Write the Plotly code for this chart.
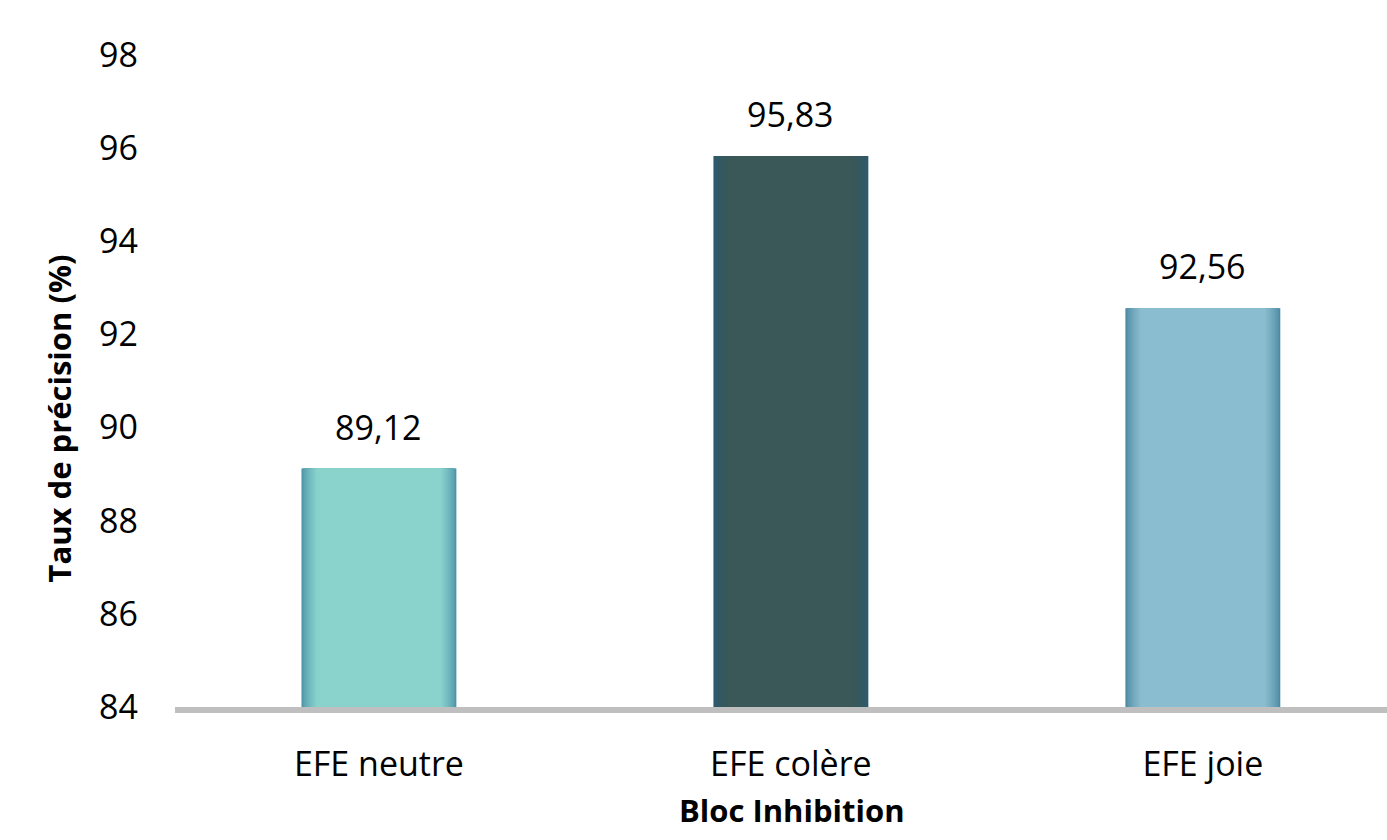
import plotly.graph_objects as go

categories = ["EFE neutre", "EFE colère", "EFE joie"]
precision = [89.12, 95.83, 92.56]
y_ticks = [84, 86, 88, 90, 92, 94, 96, 98]

# fill colours per bar: edge tone -> centre tone
edge_colors = ["#4A92A6", "#2C5A6E", "#4A88A0"]
center_colors = ["#8AD3CD", "#3A5858", "#8BBDD0"]

FONT = "Open Sans"


def mix(c1, c2, t):
    a = [int(c1[i:i + 2], 16) for i in (1, 3, 5)]
    b = [int(c2[i:i + 2], 16) for i in (1, 3, 5)]
    return "#" + "".join(f"{round(x + (y - x) * t):02x}" for x, y in zip(a, b))


fig = go.Figure()

# stacked layers of narrowing width give each bar a soft inner glow
full_w = 0.376
n = 16
for k in range(n):
    t = k / (n - 1)
    w = full_w - 0.075 * t
    shade = t ** 0.7
    fig.add_trace(go.Bar(
        x=categories,
        y=[v - y_ticks[0] for v in precision],
        base=y_ticks[0],
        width=w,
        marker=dict(color=[mix(e, c, shade) for e, c in zip(edge_colors, center_colors)],
                    line=dict(width=0)),
        hoverinfo="skip",
        showlegend=False,
    ))

# value labels above the bars
for cat, v in zip(categories, precision):
    fig.add_annotation(
        x=cat, y=v, yshift=42, showarrow=False,
        text=f"{v:.2f}".replace(".", ","),
        font=dict(family=FONT, size=34, color="#000000"),
        yanchor="middle",
    )

# axis titles
fig.add_annotation(
    xref="paper", yref="paper", x=-0.096, y=0.442, showarrow=False,
    text="<b>Taux de précision (%)</b>", textangle=-90,
    font=dict(family=FONT, size=31, color="#000000"),
    xanchor="center", yanchor="middle",
)
fig.add_annotation(
    xref="paper", yref="paper", x=0.509, y=-0.158, showarrow=False,
    text="<b>Bloc Inhibition</b>",
    font=dict(family=FONT, size=31, color="#000000"),
    xanchor="center", yanchor="middle",
)

fig.update_layout(
    barmode="overlay",
    width=1387,
    height=840,
    margin=dict(l=175, r=0, t=55, b=133),
    paper_bgcolor="white",
    plot_bgcolor="white",
    font=dict(family=FONT, color="#000000"),
    separators=",.",
)

fig.update_xaxes(
    range=[-0.495, 2.447],
    showgrid=False,
    showline=True,
    linecolor="#BFBFBF",
    linewidth=6,
    ticks="",
    ticklabelstandoff=22,
    tickfont=dict(family=FONT, size=34),
)

fig.update_yaxes(
    range=[84, 98],
    tickvals=y_ticks,
    ticktext=[str(v) for v in y_ticks],
    showgrid=False,
    zeroline=False,
    showline=False,
    ticks="",
    ticklabelstandoff=36,
    tickfont=dict(family=FONT, size=34),
)

fig.write_html("out.html")
